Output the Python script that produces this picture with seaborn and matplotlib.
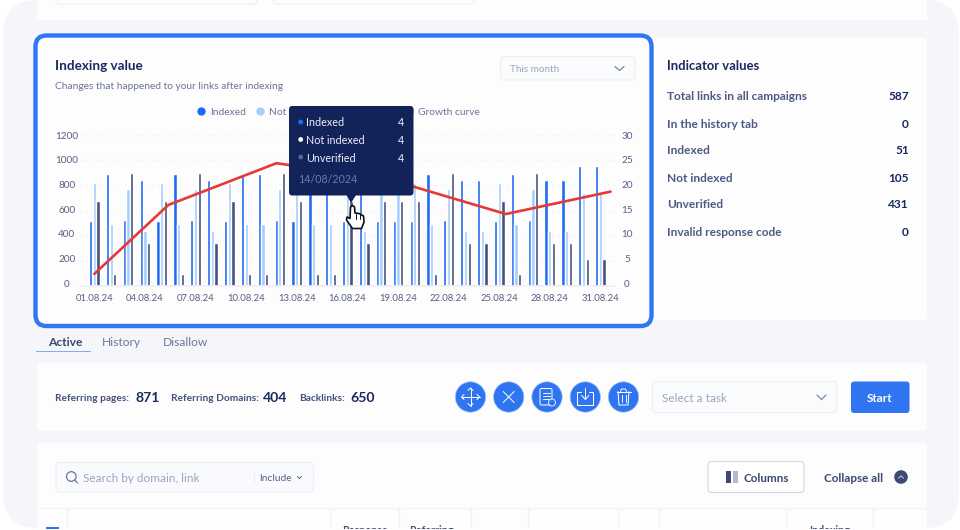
import matplotlib
matplotlib.use("Agg")
import matplotlib.pyplot as plt
from matplotlib.patches import FancyBboxPatch, Circle, Polygon, Rectangle
from matplotlib.lines import Line2D
from matplotlib.transforms import ScaledTranslation
import pandas as pd
import seaborn as sns

days = [f"{d:02d}.08.24" for d in range(1, 32)]
indexed = [516, 890, 522, 840, 516, 890, 522, 840, 516, 890, 890, 522, 516, 890, 890, 516,
           840, 516, 516, 516, 890, 522, 840, 840, 516, 890, 522, 840, 840, 954, 954]
not_indexed = [818, 495, 770, 440, 818, 495, 770, 440, 818, 495, 495, 770, 818, 495, 495, 818,
               440, 818, 818, 818, 495, 770, 440, 440, 818, 495, 770, 440, 440, 736, 736]
unverified = [673, 98, 900, 344, 673, 98, 900, 344, 673, 98, 98, 900, 673, 98, 98, 673,
              344, 673, 673, 673, 98, 900, 344, 344, 673, 98, 900, 344, 344, 217, 217]
growth_x = [0.0, 4.39, 10.8, 17.6, 24.4, 30.6]
growth_y = [2.4, 16.1, 24.4, 21.05, 14.3, 18.75]
left_ticks = [0, 200, 400, 600, 800, 1000, 1200]
right_ticks = [0, 5, 10, 15, 20, 25, 30]
indicator_labels = ["Total links in all campaigns", "In the history tab", "Indexed", "Not indexed",
                    "Unverified", "Invalid response code"]
indicator_values = [587, 0, 51, 105, 431, 0]

BLUE, LIGHT, SLATE, RED = "#2069F3", "#A5CDFD", "#46527A", "#E53935"
NAVY, MID, GREY = "#1B2A5E", "#4F5A83", "#9EA4BE"
CARD, PANEL, EDGE = "#FDFDFE", "#F5F6FA", "#ECEEF5"

sns.set_theme(style="white")
plt.rcParams["font.family"] = ["Lato", "DejaVu Sans"]

W, H = 960, 530
fig = plt.figure(figsize=(W / 100, H / 100), dpi=100, facecolor="white")


def layer(z):
    a = fig.add_axes([0, 0, 1, 1], zorder=z)
    a.set_xlim(0, W)
    a.set_ylim(H, 0)
    a.axis("off")
    a.patch.set_alpha(0)
    return a


bg = layer(0)
over = layer(5)


def box(a, x0, y0, x1, y1, r=3, fc=CARD, ec="none", lw=0, z=1):
    a.add_patch(FancyBboxPatch((x0, y0), x1 - x0, y1 - y0, boxstyle=f"round,pad=0,rounding_size={r}",
                               fc=fc, ec=ec, lw=lw * 0.72, zorder=z, clip_on=False))


def txt(a, x, y, s, px=11, c=MID, w="normal", ha="left", z=4):
    a.text(x, y, s, fontsize=px * 0.72, color=c, fontweight=w, ha=ha, va="center_baseline", zorder=z)


def seg(a, xs, ys, c="white", lw=1.0, z=5):
    a.plot(xs, ys, color=c, lw=lw * 0.72, zorder=z, solid_capstyle="round", solid_joinstyle="round")


# page panel and cards
box(bg, 3, 0, 959, 528, r=34, fc=PANEL, z=0)
bg.add_patch(Rectangle((37, 0), 890, 20, fc=CARD, ec="none", zorder=1))
box(bg, 56, -12, 257, 4, fc=CARD, ec=EDGE, lw=1)
box(bg, 273, -12, 474, 4, fc=CARD, ec=EDGE, lw=1)
box(bg, 37, 38, 927, 320, r=4)
box(bg, 35.5, 35.5, 651.5, 326, r=11, fc=CARD, ec="#3277F2", lw=4.4, z=2)
box(bg, 37, 363, 927, 431, r=4)
box(bg, 37, 443, 927, 540, r=4)

# chart header
txt(bg, 55, 65, "Indexing value", 13.5, NAVY, "bold")
txt(bg, 55, 85.5, "Changes that happened to your links after indexing", 10.15, "#6B7497")
box(bg, 500.5, 56.5, 635, 80, fc="#FAFBFD", ec=EDGE, lw=1, z=3)
txt(bg, 510, 68.5, "This month", 9.9, GREY)
seg(bg, [615, 619.5, 624], [66.5, 70.5, 66.5], "#7A82A3", 1.2)

# indicator card
txt(bg, 667, 65, "Indicator values", 13, NAVY, "bold")
for i, (lab, val) in enumerate(zip(indicator_labels, indicator_values)):
    y = 96 + i * 27
    txt(bg, 667, y, lab, 11.9, MID, "bold")
    txt(bg, 909, y, str(val), 11.9, NAVY, "bold", ha="right")

# tabs
txt(bg, 48, 341.5, "Active", 12, "#3C4770", "bold")
txt(bg, 102, 341.5, "History", 12, "#6E7799")
txt(bg, 163, 341.5, "Disallow", 12, "#6E7799")
bg.add_patch(Rectangle((36, 351), 55, 1.4, fc="#7FAEF8", ec="none", zorder=3))

# toolbar card
for x, lab in [(55, "Referring pages:"), (171, "Referring Domains:"), (299, "Backlinks:")]:
    txt(bg, x, 397.5, lab, 10.1, "#46507A", "bold")
for x, num in [(135, "871"), (263, "404"), (350, "650")]:
    txt(bg, x, 397.5, num, 14, NAVY, "bold")
cx = [470.5, 508.7, 547, 585.3, 623.5]
for x in cx:
    bg.add_patch(Circle((x, 397), 15.2, fc="#2F74F0", ec="#A9C6F8", lw=0.5, zorder=3))
x = cx[0]
seg(bg, [x - 9, x + 9], [397, 397]); seg(bg, [x, x], [388, 406])
for s in (-1, 1):
    seg(bg, [x + s * 6.5, x + s * 9, x + s * 6.5], [394.5, 397, 399.5])
    seg(bg, [x - 2.5, x, x + 2.5], [397 + s * 6.5, 397 + s * 9, 397 + s * 6.5])
x = cx[1]
seg(bg, [x - 5.5, x + 5.5], [391.5, 402.5]); seg(bg, [x - 5.5, x + 5.5], [402.5, 391.5])
x = cx[2]
box(bg, x - 7, 388.5, x + 5, 405, r=1.5, fc="none", ec="white", lw=1.0, z=5)
for dy in (392.5, 395.5, 398.5):
    seg(bg, [x - 4.5, x + 2.5], [dy, dy], lw=0.9)
bg.add_patch(Circle((x + 5, 402.5), 3.5, fc="#2F74F0", ec="white", lw=0.6, zorder=6))
x = cx[3]
seg(bg, [x - 4, x - 8, x - 8, x + 8, x + 8, x + 4], [392, 392, 405, 405, 392, 392])
seg(bg, [x, x], [388, 399]); seg(bg, [x - 3.5, x, x + 3.5], [395.5, 399.5, 395.5])
x = cx[4]
seg(bg, [x - 7, x + 7], [391.5, 391.5]); seg(bg, [x - 3, x - 2, x + 2, x + 3], [391.5, 389, 389, 391.5])
seg(bg, [x - 5.5, x - 4.5, x + 4.5, x + 5.5], [391.5, 405, 405, 391.5])
seg(bg, [x - 2, x - 2], [395, 401.5], lw=0.9); seg(bg, [x + 2, x + 2], [395, 401.5], lw=0.9)

box(bg, 652.5, 381.5, 837, 412.5, fc="#FAFBFD", ec=EDGE, lw=1, z=3)
txt(bg, 662, 397.5, "Select a task", 11.8, GREY)
seg(bg, [817, 821.5, 826], [395, 399.5, 395], "#7A82A3", 1.2)
box(bg, 851, 381.5, 909.5, 413, r=3, fc="#2F74F0", z=3)
txt(bg, 879.5, 397.5, "Start", 11.8, "white", "bold", ha="center")

# table card
box(bg, 56, 462.5, 313.5, 492, r=4, fc="#F9FAFD", ec=EDGE, lw=1, z=3)
bg.add_patch(Circle((71.3, 476.5), 4.8, fc="none", ec="#6B7497", lw=0.9, zorder=4))
seg(bg, [74.8, 77.5], [480, 483], "#6B7497", 1.2)
txt(bg, 83, 477.5, "Search by domain, link", 11.8, GREY)
seg(bg, [253.5, 253.5], [471, 484], EDGE, 1)
txt(bg, 259, 477.5, "Include", 10.2, "#5A6488")
seg(bg, [297.5, 299.5, 301.5], [476.5, 478.5, 476.5], "#5A6488", 1)
box(bg, 708, 461.5, 804, 492.5, r=3.5, fc="white", ec="#D5D8E6", lw=1.2, z=3)
bg.add_patch(Rectangle((725.5, 471), 5, 12, fc="#3E4A75", ec="none", zorder=4))
bg.add_patch(Rectangle((732.5, 471), 5, 12, fc="#B4BACD", ec="none", zorder=4))
txt(bg, 743, 477.5, "Columns", 11.6, "#3C4770", "bold")
txt(bg, 823.5, 477.5, "Collapse all", 11.6, "#3C4770", "bold")
bg.add_patch(Circle((901, 477), 6.8, fc="#3E4A75", ec="none", zorder=4))
seg(bg, [898.5, 901, 903.5], [478.2, 475.8, 478.2], "#C5CBE0", 1)
seg(bg, [37, 927], [508, 508], "#F3F4F8", 1.2)
for x in [67, 330, 399, 471, 528, 617.5, 659, 786, 873]:
    seg(bg, [x, x], [508, 530], "#F1F2F7", 1.2)
for x, lab in [(365, "Response"), (431, "Referring"), (830, "Indexing")]:
    txt(bg, x, 529.5, lab, 10.6, "#46507A", "bold", ha="center")
bg.add_patch(Rectangle((46, 526.5), 12.5, 4, fc="#2F74F0", ec="none", zorder=4))
bg.add_patch(Rectangle((0, 528.7), W, 4, fc="white", ec="none", zorder=8))

# chart
df = pd.DataFrame({"day": days * 3,
                   "value": indexed + not_indexed + unverified,
                   "series": ["Indexed"] * 31 + ["Not indexed"] * 31 + ["Unverified"] * 31})
L, R, T, B = 80, 615, 135, 286
ax = fig.add_axes([L / W, 1 - B / H, (R - L) / W, (B - T) / H], zorder=2)
ax.patch.set_alpha(0)
sns.barplot(data=df, x="day", y="value", hue="series", order=days, ax=ax, width=0.658, gap=0.12,
            saturation=1, legend=False,
            palette={"Indexed": BLUE, "Not indexed": LIGHT, "Unverified": SLATE})
step = 16.87
x0 = 94.3
ax.set_xlim((L - x0) / step, (R - x0) / step)
ax.set_ylim(0, 1200)
ax.set_xlabel("")
ax.set_ylabel("")
ax.set_xticks(range(0, 31, 3))
ax.set_xticklabels(days[::3])
ax.set_yticks(left_ticks)
ax.tick_params(axis="x", length=0, pad=6.0, labelsize=6.8, labelcolor="#565F85")
ax.tick_params(axis="y", length=0, pad=9.4, labelsize=7.2, labelcolor="#565F85")
ax.grid(axis="y", color="#E9EBF3", lw=0.8, ls=(0, (1, 4)))
ax.set_axisbelow(True)
for n, s in ax.spines.items():
    s.set_visible(n == "bottom")
ax.spines["bottom"].set_color("#EEF0F6")

tw = ax.twinx()
tw.set_zorder(3)
tw.patch.set_alpha(0)
sns.lineplot(x=growth_x, y=growth_y, ax=tw, color=RED, lw=1.9, errorbar=None, sort=False)
tw.set_ylim(0, 30)
tw.set_yticks(right_ticks)
tw.set_ylabel("")
tw.tick_params(axis="y", length=0, pad=8.6, labelsize=7.2, labelcolor="#565F85")
tw.grid(False)
for s in tw.spines.values():
    s.set_visible(False)

for a, vals, top in ((ax, left_ticks, 1200), (tw, right_ticks, 30)):
    for v, lab in zip(vals, a.get_yticklabels()):
        lab.set_ha("center")
        dy = 2.7 * (1 - v / top) * 0.72 / 72
        lab.set_transform(lab.get_transform() + ScaledTranslation(0, dy, fig.dpi_scale_trans))

handles = [Line2D([], [], ls="none", marker="o", ms=5, color=c) for c in (BLUE, LIGHT, SLATE, RED)]
tw.legend(handles, ["Indexed", "Not indexed", "Unverified", "Growth curve"], ncol=4, frameon=False,
          loc="center left", bbox_to_anchor=(197 / W, 1 - 112 / H), bbox_transform=fig.transFigure,
          fontsize=7.4, labelcolor="#6B7497", handlelength=0.8, handletextpad=0.5, columnspacing=0.95,
          borderpad=0, borderaxespad=0)

# tooltip
box(over, 289, 106, 413.5, 195.5, r=3, fc="#12235A", z=1)
over.add_patch(Polygon([(346.5, 195), (356, 195), (351, 203)], fc="#12235A", ec="none", zorder=1))
for y, lab, c in [(122, "Indexed", BLUE), (139.5, "Not indexed", "white"), (157, "Unverified", "#59648A")]:
    over.add_patch(Circle((300.7, y), 2.4, fc=c, ec="none", zorder=3))
    txt(over, 306, y, lab, 10.8, "#EEF0F8")
    txt(over, 404, y, "4", 10.8, "#EEF0F8", ha="right")
txt(over, 298.5, 178.5, "14/08/2024", 10.6, "#6E7BA3")
hand = [(350.5, 207), (352.5, 205.5), (354.5, 207), (355, 213), (359, 213.5), (363.5, 216), (364, 222),
        (361.5, 228.5), (352.5, 228.5), (346.5, 220), (347, 217), (350, 218.5)]
over.add_patch(Polygon(hand, closed=True, fc="white", ec="#111111", lw=1.2, joinstyle="round", zorder=6))
for x in (355.5, 359.5):
    seg(over, [x, x], [214, 219], "#111111", 1, z=7)

fig.savefig("out.png", dpi=100, facecolor="white")
